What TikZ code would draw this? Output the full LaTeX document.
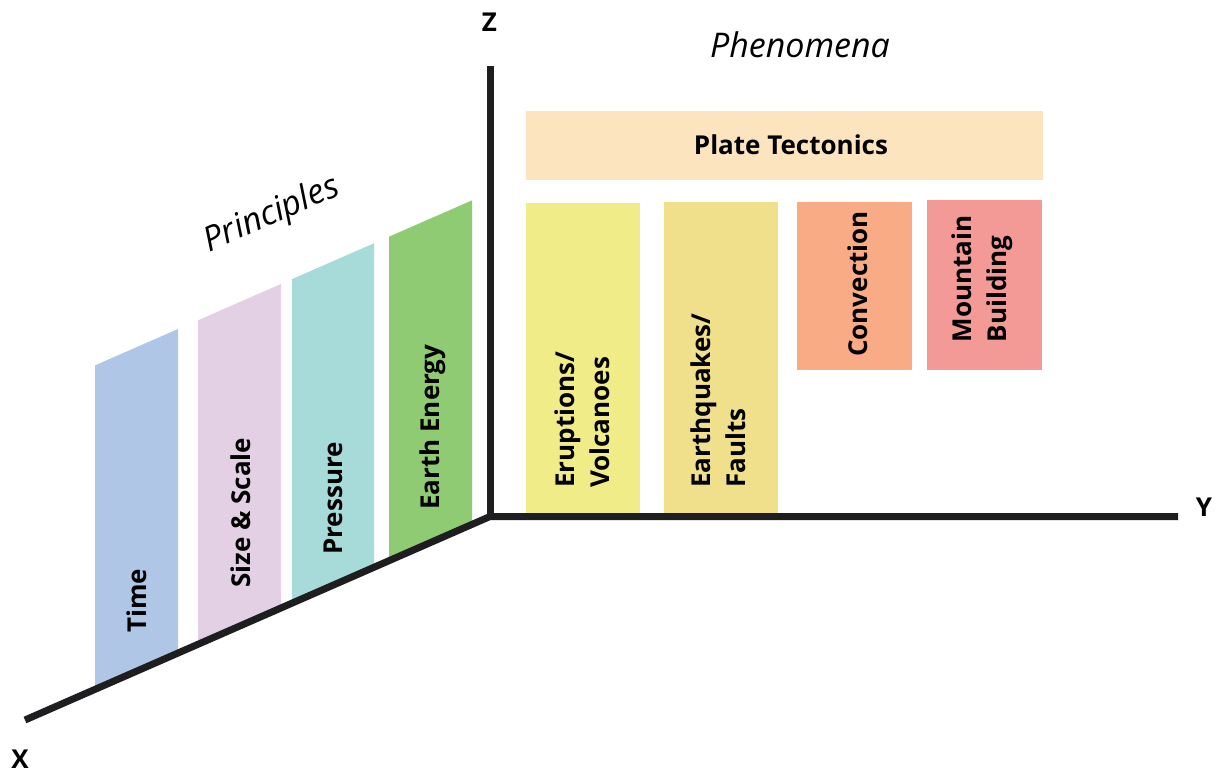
\documentclass[tikz,border=0pt]{standalone}
\usepackage{fontspec}
\setmainfont{Open Sans}
\definecolor{axiscol}{HTML}{1E1E21}
\definecolor{ctime}{HTML}{B0C6E6}
\definecolor{csize}{HTML}{E3D0E5}
\definecolor{cpress}{HTML}{A6DBDA}
\definecolor{cearth}{HTML}{8ECB72}
\definecolor{cplate}{HTML}{FBE4BE}
\definecolor{cerupt}{HTML}{F0EC87}
\definecolor{cquake}{HTML}{F0DF8B}
\definecolor{cconv}{HTML}{F9AB85}
\definecolor{cmount}{HTML}{F39A96}
\newcommand\pbar[4]{%
  \fill[#1] (#2,{720-(#2-25)*0.4376}) -- (#2,{720-(#2-25)*0.4376-324})
    -- (#3,{720-(#3-25)*0.4376-324}) -- (#3,{720-(#3-25)*0.4376}) -- cycle;
  \coordinate (#4) at ({(#2+#3)/2},{720-((#2+#3)/2-25)*0.4376});}
\tikzset{
  lbl/.style={font=\fontsize{26}{35}\selectfont\bfseries, inner sep=0pt, text=black},
  vlbl/.style={lbl, rotate=90, align=left},
  ital/.style={font=\fontsize{34}{40}\selectfont\itshape, inner sep=0pt, text=black},
  axis/.style={line width=7pt, draw=axiscol},
  pbox/.style={inner sep=0pt, outer sep=0pt}
}
\begin{document}
\begin{tikzpicture}[x=1pt,y=-1pt]
\useasboundingbox[fill=white] (0,0) rectangle (1221,774);
% principle bars
\pbar{ctime}{95}{178}{btime}
\pbar{csize}{198}{281}{bsize}
\pbar{cpress}{292}{374}{bpress}
\pbar{cearth}{389}{472}{bearth}
% phenomena boxes
\node[pbox, fill=cplate, minimum width=517pt, minimum height=69pt, anchor=north west] (plate) at (526,111) {};
\node[pbox, fill=cerupt, minimum width=114pt, minimum height=312pt, anchor=north west] (erupt) at (526,203) {};
\node[pbox, fill=cquake, minimum width=114pt, minimum height=313pt, anchor=north west] (quake) at (664,202) {};
\node[pbox, fill=cconv, minimum width=115pt, minimum height=168pt, anchor=north west] (conv) at (797,202) {};
\node[pbox, fill=cmount, minimum width=115pt, minimum height=170pt, anchor=north west] (mount) at (927,200) {};
% axes
\coordinate (O) at (490,516.5);
\coordinate (Xe) at (25,720);
\coordinate (Ye) at (1178,516.5);
\coordinate (Ze) at (490,66);
\draw[axis] (Xe) -- (O) -- (Ye);
\draw[axis] (O) -- (Ze);
% axis labels
\node[lbl] (xl) at (20,759) {X};
\node[lbl] (yl) at (1204,507) {Y};
\node[lbl] (zl) at (489.5,22) {Z};
% titles
\node[ital, anchor=base] (phen) at (800,57) {Phenomena};
\node[ital, rotate=23.6] (princ) at (272,215) {Principles};
\node[lbl, anchor=base] (platet) at (791,154) {Plate Tectonics};
% principle labels
\node[vlbl, anchor=west] (ttime) at (137,633) {Time};
\node[vlbl, anchor=west] (tsize) at (241,588) {Size \& Scale};
\node[vlbl, anchor=west] (tpress) at (333,555) {Pressure};
\node[vlbl, anchor=west] (tearth) at (433,510) {Earth Energy};
% phenomena labels
\node[vlbl, anchor=west] (terupt) at (582,488) {Eruptions/\\Volcanoes};
\node[vlbl, anchor=west] (tquake) at (718,488) {Earthquakes/\\Faults};
\node[vlbl] (tconv) at (858,284) {Convection};
\node[vlbl] (tmount) at (982,279) {Mountain\\Building};
\end{tikzpicture}
\end{document}
